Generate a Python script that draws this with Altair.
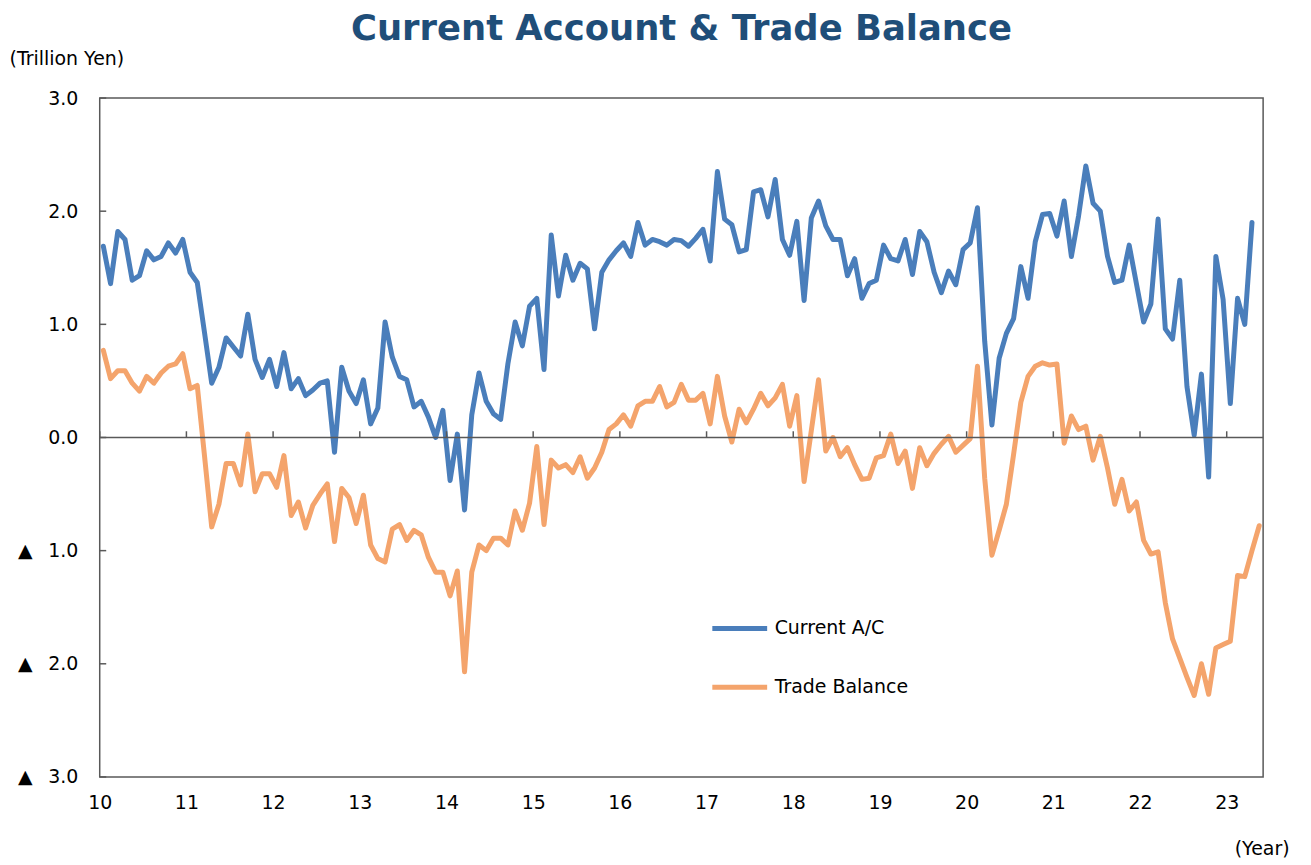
import altair as alt
import pandas as pd

# ---------------- data (monthly, Jan 2010 onward, trillion yen) ----------------
start_year = 10  # 2010
series_names = ["Current A/C", "Trade Balance"]
series_colors = ["#4A7EBB", "#F4A46C"]

current_ac = [
    1.69, 1.36, 1.82, 1.75, 1.39, 1.43, 1.65, 1.57, 1.60, 1.72, 1.63, 1.75,   # 2010
    1.46, 1.37, 0.93, 0.48, 0.62, 0.88, 0.80, 0.72, 1.09, 0.69, 0.53, 0.69,   # 2011
    0.45, 0.75, 0.43, 0.52, 0.37, 0.42, 0.48, 0.50, -0.13, 0.62, 0.41, 0.30,  # 2012
    0.51, 0.12, 0.26, 1.02, 0.71, 0.54, 0.51, 0.27, 0.32, 0.18, 0.00, 0.24,   # 2013
    -0.38, 0.03, -0.64, 0.20, 0.57, 0.32, 0.21, 0.16, 0.65, 1.02, 0.81, 1.16, # 2014
    1.23, 0.60, 1.79, 1.25, 1.61, 1.39, 1.54, 1.49, 0.96, 1.46, 1.57, 1.65,   # 2015
    1.72, 1.60, 1.90, 1.70, 1.75, 1.73, 1.70, 1.75, 1.74, 1.69, 1.76, 1.84,   # 2016
    1.56, 2.35, 1.93, 1.88, 1.64, 1.66, 2.17, 2.19, 1.95, 2.28, 1.75, 1.61,   # 2017
    1.91, 1.21, 1.94, 2.09, 1.87, 1.75, 1.75, 1.43, 1.58, 1.23, 1.36, 1.39,   # 2018
    1.70, 1.58, 1.56, 1.75, 1.44, 1.82, 1.73, 1.46, 1.28, 1.47, 1.35, 1.66,   # 2019
    1.72, 2.03, 0.85, 0.11, 0.70, 0.92, 1.05, 1.51, 1.23, 1.73, 1.97, 1.98,   # 2020
    1.78, 2.09, 1.60, 1.96, 2.40, 2.07, 2.00, 1.60, 1.37, 1.39, 1.70, 1.36,   # 2021
    1.02, 1.18, 1.93, 0.96, 0.87, 1.39, 0.45, 0.02, 0.56, -0.35, 1.60, 1.22,  # 2022
    0.30, 1.23, 1.00, 1.90,                                                   # 2023
]

trade_balance = [
    0.77, 0.52, 0.59, 0.59, 0.48, 0.41, 0.54, 0.48, 0.57, 0.63, 0.65, 0.74,          # 2010
    0.43, 0.46, -0.16, -0.79, -0.59, -0.23, -0.23, -0.42, 0.03, -0.48, -0.32, -0.32, # 2011
    -0.44, -0.16, -0.69, -0.57, -0.80, -0.60, -0.50, -0.41, -0.92, -0.45, -0.53, -0.76, # 2012
    -0.51, -0.95, -1.07, -1.10, -0.81, -0.77, -0.91, -0.82, -0.86, -1.06, -1.19, -1.19, # 2013
    -1.40, -1.18, -2.07, -1.19, -0.95, -1.00, -0.89, -0.89, -0.95, -0.65, -0.82, -0.58, # 2014
    -0.08, -0.77, -0.20, -0.27, -0.24, -0.31, -0.17, -0.36, -0.27, -0.13, 0.07, 0.12,   # 2015
    0.20, 0.10, 0.28, 0.32, 0.32, 0.45, 0.27, 0.31, 0.47, 0.33, 0.33, 0.39,             # 2016
    0.12, 0.54, 0.19, -0.04, 0.25, 0.13, 0.25, 0.39, 0.28, 0.35, 0.47, 0.10,            # 2017
    0.37, -0.39, 0.06, 0.51, -0.12, 0.00, -0.17, -0.09, -0.24, -0.37, -0.36, -0.18,     # 2018
    -0.16, 0.03, -0.23, -0.12, -0.45, -0.09, -0.25, -0.14, -0.06, 0.01, -0.13, -0.07,   # 2019
    -0.01, 0.63, -0.36, -1.04, -0.82, -0.59, -0.15, 0.31, 0.54, 0.63, 0.66, 0.64,       # 2020
    0.65, -0.05, 0.19, 0.07, 0.10, -0.20, 0.01, -0.27, -0.59, -0.37, -0.65, -0.57,      # 2021
    -0.91, -1.03, -1.01, -1.46, -1.78, -1.95, -2.12, -2.28, -2.00, -2.27, -1.86, -1.83, # 2022
    -1.80, -1.22, -1.23, -1.00, -0.78,                                                  # 2023
]

year_ticks = list(range(10, 24))
y_ticks = [-3, -2, -1, 0, 1, 2, 3]

# ---------------- build tables ----------------
rows = []
for name, vals in zip(series_names, [current_ac, trade_balance]):
    for i, v in enumerate(vals):
        rows.append({"series": name, "t": start_year + (i + 0.5) / 12.0, "value": v, "idx": i})
df = pd.DataFrame(rows)
xt_df = pd.DataFrame({"t": year_ticks, "value": [0.0] * len(year_ticks), "y1": [0.055] * len(year_ticks)})
yt_df = pd.DataFrame({"value": y_ticks, "t": [10.0] * len(y_ticks), "x1": [10.075] * len(y_ticks)})
zero_df = pd.DataFrame({"value": [0.0]})

FONT = "DejaVu Sans"
AXIS_GREY = "#595959"

x_scale = alt.Scale(domain=[10, 23.42], nice=False, zero=False)
y_scale = alt.Scale(domain=[-3, 3], nice=False, zero=False)

neg_label = "'\u25B2\u2002\u00A0' + format(-datum.value, '.1f')"
y_label_expr = f"datum.value < 0 ? {neg_label} : format(datum.value, '.1f')"

x_axis = alt.Axis(
    values=year_ticks, format="d", ticks=False, tickSize=0, domain=False, grid=False,
    labelPadding=17, labelFontSize=19, labelFont=FONT, labelColor="#000000",
    labelFlush=False, labelOverlap=False,
    title="(Year)", titleFont=FONT, titleFontSize=19, titleFontWeight="normal",
    titleColor="#000000", titleX=1138, titleY=72, titleAlign="left", titleBaseline="middle")

y_axis = alt.Axis(
    values=y_ticks, labelExpr=y_label_expr, ticks=False, tickSize=0, domain=False, grid=False,
    labelPadding=22, labelFontSize=19, labelFont=FONT, labelColor="#000000",
    title="(Trillion Yen)", titleFont=FONT, titleFontSize=19, titleFontWeight="normal",
    titleColor="#000000", titleAngle=0, titleX=-91, titleY=-40,
    titleAlign="left", titleBaseline="middle")

X = alt.X("t:Q", scale=x_scale, axis=x_axis, title="(Year)")
Y = alt.Y("value:Q", scale=y_scale, axis=y_axis, title="(Trillion Yen)")

lines = alt.Chart(df).mark_line(strokeWidth=5, strokeJoin="round", strokeCap="round").encode(
    x=X,
    y=Y,
    color=alt.Color("series:N", scale=alt.Scale(domain=series_names, range=series_colors),
                    legend=alt.Legend(title=None, orient="none", legendX=612, legendY=502,
                                      symbolType="stroke", symbolSize=3025, symbolStrokeWidth=5,
                                      labelFontSize=19, labelFont=FONT, labelColor="#000000",
                                      labelOffset=5, rowPadding=19, padding=0)),
    order=alt.Order("idx:Q"),
)

zero_line = alt.Chart(zero_df).mark_rule(color=AXIS_GREY, strokeWidth=1.5).encode(
    y=Y
)

x_tick_marks = alt.Chart(xt_df).mark_rule(color=AXIS_GREY, strokeWidth=1.5).encode(
    x=X,
    y=Y,
    y2="y1:Q",
)

y_tick_marks = alt.Chart(yt_df).mark_rule(color=AXIS_GREY, strokeWidth=1.5).encode(
    y=Y,
    x=X,
    x2="x1:Q",
)

chart = alt.layer(lines, zero_line, x_tick_marks, y_tick_marks).properties(
    width=1167,
    height=681,
    autosize="none",
    padding={"left": 92, "top": 89, "right": 40, "bottom": 80},
    title=alt.TitleParams(
        "Current Account & Trade Balance",
        font=FONT, fontSize=35.5, fontWeight="bold", color="#1F4E79",
        anchor="middle", offset=2,
    ),
).configure_view(
    stroke=AXIS_GREY, strokeWidth=1.5
)

chart.save("out.html", embed_options={"renderer": "svg", "actions": False})
